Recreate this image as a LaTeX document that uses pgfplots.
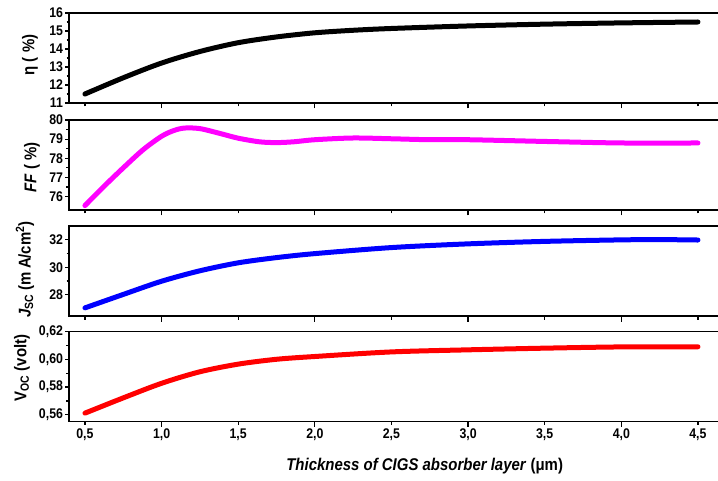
\documentclass[border=0pt]{standalone}
\usepackage{pgfplots}
\pgfplotsset{compat=1.18}
\usepackage{fontspec}
\setmainfont{Liberation Sans}[FakeStretch=0.88]
\definecolor{mymag}{rgb}{1,0,1}
\definecolor{myblue}{rgb}{0,0,1}
\definecolor{myred}{rgb}{1,0,0}
\begin{document}
\begin{tikzpicture}
\pgfplotsset{
  myax/.style={
    scale only axis, width=655pt, height=90pt,
    xmin=0.396, xmax=4.67,
    axis line style={line width=1.4pt},
    tick style={line width=1.2pt, black},
    tick align=outside,
    xtick pos=left, ytick pos=left,
    xtick={0.5,1,...,4.5},
    major tick length=3.5pt, minor tick length=2.5pt,
    extra x ticks={1,2,3,4}, extra x tick labels={},
    extra x tick style={major tick length=5.5pt},
    minor y tick num=1,
    /pgf/number format/assume math mode=true,
    ticklabel style={font=\bfseries\fontsize{14}{14}\selectfont},
    xticklabel style={/pgf/number format/.cd, fixed, fixed zerofill, precision=1, use comma},
    ylabel style={font=\bfseries\fontsize{17}{17}\selectfont, rotate=0, anchor=center},
    yticklabel style={xshift=1pt},
  },
  myline/.style={line width=5pt, line cap=round, smooth, no markers},
}
% Panel 1: efficiency
\begin{axis}[myax, at={(69pt,-13pt)}, anchor=north west,
  ymin=11, ymax=16, ytick={11,12,...,16}, xticklabels={},
  ylabel={η ( \%)}, ylabel style={at={(axis description cs:-0.0595,0.533)}}]
\addplot[myline, black] coordinates {
(0.5,11.5) (0.75,12.40) (1.0,13.22) (1.25,13.86) (1.5,14.35) (1.75,14.67) (2.0,14.90) (2.25,15.04) (2.5,15.14) (3.0,15.28) (3.5,15.38) (4.0,15.45) (4.5,15.50)};
\end{axis}
% Panel 2: FF
\begin{axis}[myax, at={(69pt,-120pt)}, anchor=north west,
  ymin=75.3, ymax=80, ytick={76,77,...,80}, xticklabels={},
  ylabel={\textit{FF} ( \%)}, ylabel style={at={(axis description cs:-0.0565,0.472)}}]
\addplot[myline, mymag] coordinates {
(0.5,75.53) (0.62,76.5) (0.75,77.5) (0.88,78.45) (1.0,79.15) (1.08,79.45) (1.15,79.58) (1.25,79.55) (1.38,79.3) (1.5,79.05) (1.64,78.86) (1.75,78.82) (1.86,78.86) (2.0,78.97) (2.25,79.06) (2.5,79.02) (2.75,78.97) (3.0,78.97) (3.5,78.88) (4.0,78.8) (4.5,78.8)};
\end{axis}
% Panel 3: Jsc
\begin{axis}[myax, at={(69pt,-226pt)}, anchor=north west,
  ymin=26.45, ymax=33, ytick={28,30,32}, xticklabels={},
  ylabel={\textit{J}\textsubscript{SC} (m\,A/cm\textsuperscript{2})}, ylabel style={at={(axis description cs:-0.0672,0.517)}}]
\addplot[myline, myblue] coordinates {
(0.5,27.04) (0.75,28.02) (1.0,28.98) (1.25,29.74) (1.5,30.32) (1.75,30.70) (2.0,30.99) (2.5,31.43) (3.0,31.70) (3.5,31.88) (4.0,31.99) (4.25,32.01) (4.5,31.98)};
\end{axis}
% Panel 4: Voc
\begin{axis}[myax, at={(69pt,-331.5pt)}, anchor=north west,
  ymin=0.5552, ymax=0.62, ytick={0.56,0.58,0.60,0.62},
  yticklabel style={/pgf/number format/.cd, fixed, fixed zerofill, precision=2, use comma},
  ylabel={V\textsubscript{OC} (volt)}, ylabel style={at={(axis description cs:-0.0718,0.594)}},
  xlabel={\textbf{\textit{Thickness of CIGS absorber layer} (μm)}},
  xlabel style={font=\fontsize{17}{17}\selectfont, anchor=center, at={(axis description cs:0.543,-0.494)}}]
\addplot[myline, myred] coordinates {
(0.5,0.5612) (0.75,0.5722) (1.0,0.5827) (1.25,0.5910) (1.5,0.5965) (1.75,0.6000) (2.0,0.6020) (2.5,0.6053) (3.0,0.6068) (3.5,0.6080) (4.0,0.6089) (4.5,0.6090)};
\end{axis}
\pgfresetboundingbox
\path[use as bounding box] (0pt,0pt) rectangle (718pt,-481pt);
\end{tikzpicture}
\end{document}
